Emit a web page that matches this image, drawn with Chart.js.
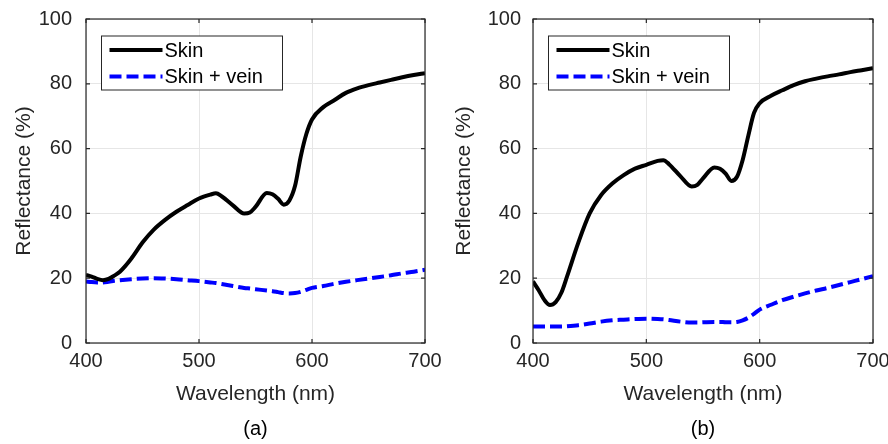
<!DOCTYPE html>
<html>
<head>
<meta charset="utf-8">
<script src="https://cdn.jsdelivr.net/npm/chart.js@4"></script>
<style>
  html, body { margin: 0; padding: 0; background: #fff; }
  .row { display: flex; width: 888px; height: 444px; }
  canvas { display: block; }
</style>
</head>
<body>
<div class="row">
  <canvas id="chartA" width="444" height="444"></canvas>
  <canvas id="chartB" width="444" height="444"></canvas>
</div>
<script>
const wavelengths = [400, 405, 410, 415, 420, 425, 430, 440, 450, 460, 470, 480, 490, 500, 510, 515, 520, 530, 540, 545,
  550, 560, 565, 570, 575, 580, 585, 590, 595, 600, 610, 620, 630, 640, 650, 660, 670, 680, 690, 700];

const skinA = [21, 20.5, 19.8, 19.4, 19.8, 20.8, 22, 26, 31, 35, 38, 40.5, 42.6, 44.6, 45.8, 46.2, 45.3, 42.5, 40, 40.3,
  42, 46.3, 45.9, 44.5, 42.7, 44, 48.5, 57.5, 64.5, 69, 72.8, 75, 77.2, 78.6, 79.6, 80.4, 81.2, 82, 82.7, 83.3];
const veinA = [19, 18.8, 18.7, 18.7, 18.9, 19.2, 19.4, 19.7, 19.9, 20, 19.9, 19.7, 19.4, 19.1, 18.7, 18.5, 18.2, 17.6, 17, 16.8,
  16.6, 16.2, 16, 15.7, 15.4, 15.3, 15.4, 15.8, 16.4, 17, 17.6, 18.3, 18.9, 19.4, 19.9, 20.4, 20.9, 21.5, 22, 22.6];

const skinB = [19, 16.3, 13.3, 11.7, 12.6, 15.5, 20.5, 31, 40, 45.6, 49.2, 51.8, 53.8, 55, 56.2, 56.4, 55.2, 51.5, 48.3, 48.8,
  50.8, 54.2, 53.8, 52.3, 50, 51.3, 56.5, 64, 71, 74, 76.3, 78, 79.6, 80.8, 81.6, 82.3, 82.9, 83.6, 84.2, 84.8];
const veinB = [5.1, 5.1, 5.1, 5.1, 5.1, 5.1, 5.2, 5.5, 6, 6.6, 7, 7.2, 7.4, 7.5, 7.4, 7.3, 7.1, 6.6, 6.3, 6.3,
  6.4, 6.5, 6.5, 6.4, 6.4, 6.5, 7, 7.8, 9, 10.3, 11.8, 13.2, 14.3, 15.3, 16.2, 17, 17.9, 18.8, 19.7, 20.6];

const seriesNames = ["Skin", "Skin + vein"];
const xTitle = "Wavelength (nm)";
const yTitle = "Reflectance (%)";

const FONT = "'Liberation Sans', Arial, Helvetica, sans-serif";
const AXIS_COLOR = "#262626";

// axes box, inward tick marks, the boxed legend and the panel caption (MATLAB look)
const framePlugin = {
  id: "frame",
  afterDraw(chart, args, opts) {
    const { ctx, chartArea: a, scales } = chart;
    ctx.save();
    ctx.strokeStyle = AXIS_COLOR;
    ctx.lineWidth = 1.2;
    ctx.strokeRect(a.left, a.top, a.right - a.left, a.bottom - a.top);

    ctx.beginPath();
    scales.x.ticks.forEach((t) => {
      const px = scales.x.getPixelForValue(t.value);
      ctx.moveTo(px, a.bottom); ctx.lineTo(px, a.bottom - 4);
      ctx.moveTo(px, a.top); ctx.lineTo(px, a.top + 4);
    });
    scales.y.ticks.forEach((t) => {
      const py = scales.y.getPixelForValue(t.value);
      ctx.moveTo(a.left, py); ctx.lineTo(a.left + 4, py);
      ctx.moveTo(a.right, py); ctx.lineTo(a.right - 4, py);
    });
    ctx.stroke();

    const lx = a.left + 15.5, ly = a.top + 17;
    ctx.fillStyle = "#fff";
    ctx.fillRect(lx, ly, 181, 54);
    ctx.strokeStyle = AXIS_COLOR;
    ctx.lineWidth = 1;
    ctx.strokeRect(lx, ly, 181, 54);

    ctx.font = "20px " + FONT;
    ctx.textBaseline = "middle";
    ctx.textAlign = "left";
    chart.data.datasets.forEach((ds, i) => {
      const y = ly + 14 + i * 26.5;
      ctx.beginPath();
      ctx.strokeStyle = ds.borderColor;
      ctx.lineWidth = ds.borderWidth;
      ctx.setLineDash(ds.borderDash || []);
      ctx.moveTo(lx + 8, y);
      ctx.lineTo(lx + 61, y);
      ctx.stroke();
      ctx.setLineDash([]);
      ctx.fillStyle = "#000";
      ctx.fillText(ds.label, lx + 63, y + 1);
    });

    ctx.textAlign = "center";
    ctx.fillStyle = "#000";
    ctx.fillText(opts.caption, (a.left + a.right) / 2, 429);
    ctx.restore();
  }
};

function noPad(s) {
  s.paddingTop = 0;
  s.paddingBottom = 0;
  s.paddingLeft = 0;
  s.paddingRight = 0;
}

function makeChart(id, caption, skin, vein, yWidth, yPad, yTitlePad, rightPad) {
  return new Chart(document.getElementById(id), {
    type: "line",
    data: {
      datasets: [
        {
          label: seriesNames[0],
          data: wavelengths.map((w, i) => ({ x: w, y: skin[i] })),
          borderColor: "#000000",
          borderWidth: 4,
          pointRadius: 0,
          cubicInterpolationMode: "monotone",
          fill: false
        },
        {
          label: seriesNames[1],
          data: wavelengths.map((w, i) => ({ x: w, y: vein[i] })),
          borderColor: "#0000ff",
          borderWidth: 4,
          borderDash: [12, 5],
          pointRadius: 0,
          cubicInterpolationMode: "monotone",
          fill: false
        }
      ]
    },
    options: {
      responsive: false,
      animation: false,
      devicePixelRatio: 1,
      layout: { padding: { left: 0, top: 19, right: rightPad, bottom: 0 } },
      plugins: {
        legend: { display: false },
        tooltip: { enabled: false },
        title: { display: false },
        frame: { caption }
      },
      scales: {
        x: {
          type: "linear",
          min: 400,
          max: 700,
          ticks: { stepSize: 100, color: AXIS_COLOR, padding: 6, font: { family: FONT, size: 20 } },
          grid: { color: "#e6e6e6", lineWidth: 1, drawTicks: false },
          border: { display: false },
          title: {
            display: true,
            text: xTitle,
            color: AXIS_COLOR,
            font: { family: FONT, size: 21 },
            padding: { top: 0, bottom: 37 }
          },
          afterFit: (s) => { s.height = 101; noPad(s); }
        },
        y: {
          min: 0,
          max: 100,
          ticks: { stepSize: 20, color: AXIS_COLOR, padding: yPad, font: { family: FONT, size: 20 } },
          grid: { color: "#e6e6e6", lineWidth: 1, drawTicks: false },
          border: { display: false },
          title: {
            display: true,
            text: yTitle,
            color: AXIS_COLOR,
            font: { family: FONT, size: 21 },
            padding: { top: yTitlePad, bottom: 0 }
          },
          afterFit: (s) => { s.width = yWidth; noPad(s); }
        }
      }
    },
    plugins: [framePlugin]
  });
}

makeChart("chartA", "(a)", skinA, veinA, 86, 14, 12, 19);
makeChart("chartB", "(b)", skinB, veinB, 89, 12, 8, 15);
</script>
</body>
</html>
